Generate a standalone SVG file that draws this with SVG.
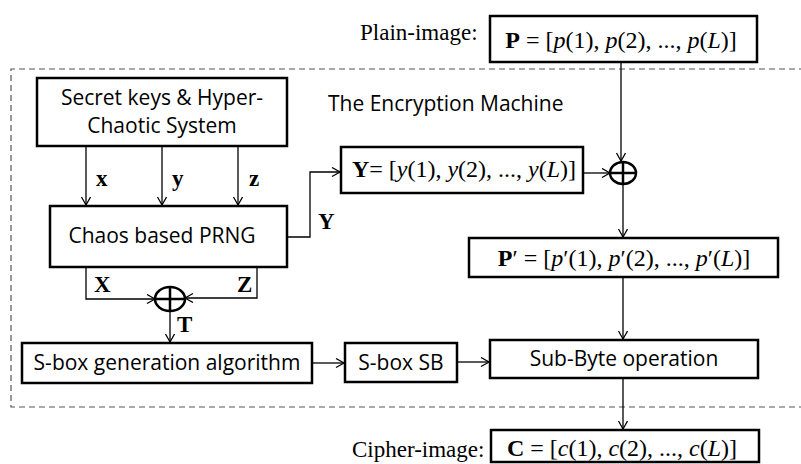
<svg xmlns="http://www.w3.org/2000/svg" width="801" height="464" viewBox="0 0 801 464">
  <style>
    .box { fill: #fff; stroke: #000; stroke-width: 2.5; }
    .sans { font-family: "Open Sans", "Liberation Sans", sans-serif; font-size: 21px; fill: #000; }
    .serif { font-family: "Liberation Serif", serif; font-size: 23px; fill: #000; }
    .math { font-family: "Liberation Serif", serif; font-size: 24px; fill: #000; }
    .lbl { font-family: "Liberation Serif", serif; font-size: 23px; font-weight: bold; fill: #000; }
    .wire { fill: none; stroke: #000; stroke-width: 1.3; }
    .xor { fill: #fff; stroke: #000; stroke-width: 2.5; }
    .b { font-weight: bold; }
    .i { font-style: italic; }
  </style>
  <defs>
    <marker id="arrow" markerUnits="userSpaceOnUse" markerWidth="12" markerHeight="12" refX="9" refY="5" orient="auto">
      <path d="M1,0.5 L9,5 L1,9.5" fill="none" stroke="#000" stroke-width="1.3"/>
    </marker>
  </defs>

  <rect width="801" height="464" fill="#fff"/>

  <!-- encryption machine boundary -->
  <path d="M805,69 H11 V407 H805" fill="none" stroke="#555" stroke-width="1.2" stroke-dasharray="6,4"/>
  <text class="sans" x="328" y="111">The Encryption Machine</text>

  <!-- connectors -->
  <g id="connectors">
    <line class="wire" x1="86" y1="146" x2="86" y2="205" marker-end="url(#arrow)"/>
    <line class="wire" x1="162" y1="146" x2="162" y2="205" marker-end="url(#arrow)"/>
    <line class="wire" x1="238" y1="146" x2="238" y2="205" marker-end="url(#arrow)"/>
    <polyline class="wire" points="287,237 310,237 310,172 340,172" stroke="#444" marker-end="url(#arrow)"/>
    <polyline class="wire" points="86,267 86,299 155,299" marker-end="url(#arrow)"/>
    <polyline class="wire" points="257,267 257,298 185,298" marker-end="url(#arrow)"/>
    <line class="wire" x1="170" y1="311" x2="170" y2="342" marker-end="url(#arrow)"/>
    <line class="wire" x1="312" y1="363" x2="344" y2="363" marker-end="url(#arrow)"/>
    <line class="wire" x1="457" y1="362" x2="489" y2="362" marker-end="url(#arrow)"/>
    <line class="wire" x1="621" y1="62" x2="621" y2="161" marker-end="url(#arrow)"/>
    <line class="wire" x1="583" y1="173" x2="610" y2="173" marker-end="url(#arrow)"/>
    <line class="wire" x1="623" y1="184" x2="623" y2="237" marker-end="url(#arrow)"/>
    <line class="wire" x1="623" y1="277" x2="623" y2="339" marker-end="url(#arrow)"/>
    <line class="wire" x1="623" y1="378" x2="623" y2="429" marker-end="url(#arrow)"/>
  </g>

  <!-- signal labels -->
  <text class="lbl" x="96" y="186">x</text>
  <text class="lbl" x="172" y="186">y</text>
  <text class="lbl" x="249" y="186">z</text>
  <text class="lbl" x="318" y="229">Y</text>
  <text class="lbl" x="94" y="292">X</text>
  <text class="lbl" x="237" y="292">Z</text>
  <text class="lbl" x="177" y="332">T</text>

  <g id="plain-image">
    <text class="serif" x="360" y="40">Plain-image:</text>
    <rect class="box" x="490" y="16" width="267" height="46"/>
    <text class="math" x="621" y="48" text-anchor="middle"><tspan class="b">P</tspan> = [<tspan class="i">p</tspan>(1), <tspan class="i">p</tspan>(2), ..., <tspan class="i">p</tspan>(<tspan class="i">L</tspan>)]</text>
  </g>

  <g id="secret-keys">
    <rect class="box" x="37" y="78" width="250" height="68"/>
    <text class="sans" x="162" y="105" text-anchor="middle">Secret keys &amp; Hyper-</text>
    <text class="sans" x="162" y="133" text-anchor="middle">Chaotic System</text>
  </g>

  <g id="prng">
    <rect class="box" x="50" y="206" width="237" height="61"/>
    <text class="sans" x="162" y="243" text-anchor="middle">Chaos based PRNG</text>
  </g>

  <g id="y-sequence">
    <rect class="box" x="341" y="147" width="242" height="46"/>
    <text class="math" x="464" y="177" text-anchor="middle"><tspan class="b">Y</tspan>= [<tspan class="i">y</tspan>(1), <tspan class="i">y</tspan>(2), ..., <tspan class="i">y</tspan>(<tspan class="i">L</tspan>)]</text>
  </g>

  <g id="xor-top">
    <ellipse class="xor" cx="623" cy="173" rx="13" ry="11"/>
    <line x1="610" y1="173" x2="636" y2="173" stroke="#000" stroke-width="2.5"/>
    <line x1="623" y1="162" x2="623" y2="184" stroke="#000" stroke-width="2.5"/>
  </g>

  <g id="xor-bottom">
    <ellipse class="xor" cx="170" cy="299" rx="15" ry="12"/>
    <line x1="155" y1="299" x2="185" y2="299" stroke="#000" stroke-width="2.5"/>
    <line x1="170" y1="287" x2="170" y2="311" stroke="#000" stroke-width="2.5"/>
  </g>

  <g id="p-prime">
    <rect class="box" x="469" y="238" width="309" height="39"/>
    <text class="math" x="624" y="266" text-anchor="middle"><tspan class="b">P</tspan>′ = [<tspan class="i">p</tspan>′(1), <tspan class="i">p</tspan>′(2), ..., <tspan class="i">p</tspan>′(<tspan class="i">L</tspan>)]</text>
  </g>

  <g id="sbox-gen">
    <rect class="box" x="22" y="343" width="290" height="40"/>
    <text class="sans" x="167" y="370" text-anchor="middle">S-box generation algorithm</text>
  </g>

  <g id="sbox-sb">
    <rect class="box" x="345" y="343" width="112" height="39"/>
    <text class="sans" x="401" y="370" text-anchor="middle">S-box SB</text>
  </g>

  <g id="sub-byte">
    <rect class="box" x="490" y="340" width="268" height="38"/>
    <text class="sans" x="624" y="366" text-anchor="middle">Sub-Byte operation</text>
  </g>

  <g id="cipher-image">
    <text class="serif" x="352" y="457">Cipher-image:</text>
    <rect class="box" x="491" y="430" width="268" height="32"/>
    <text class="math" x="622" y="456" text-anchor="middle"><tspan class="b">C</tspan> = [<tspan class="i">c</tspan>(1), <tspan class="i">c</tspan>(2), ..., <tspan class="i">c</tspan>(<tspan class="i">L</tspan>)]</text>
  </g>
</svg>
